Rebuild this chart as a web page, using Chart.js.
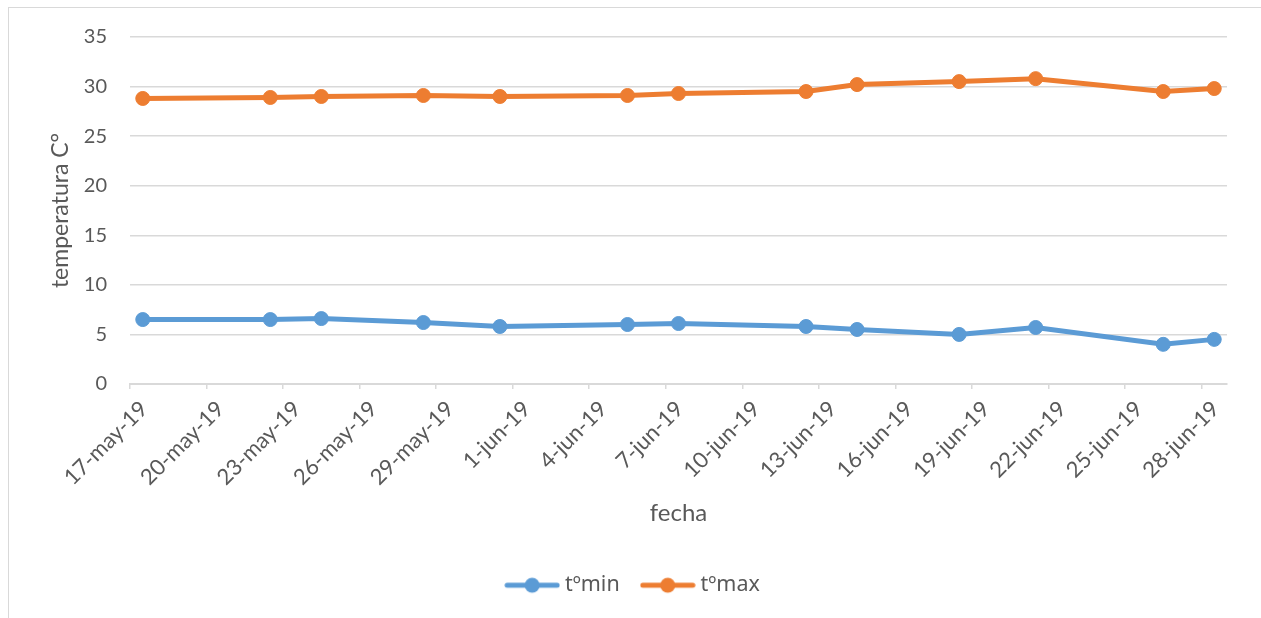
<!DOCTYPE html>
<html>
<head>
<meta charset="utf-8">
<script src="https://cdn.jsdelivr.net/npm/chart.js"></script>
<style>
  body { margin: 0; background: #fff; overflow: hidden; }
  #frame { position: absolute; left: 8px; top: 7px; width: 1300px; height: 700px;
           border-left: 1px solid #d9d9d9; border-top: 1px solid #d9d9d9; }
  #myChart { position: absolute; left: 0; top: 0; }
</style>
</head>
<body>
<div id="frame"></div>
<canvas id="myChart" width="1261" height="618"></canvas>
<script>
// measurement days and temperatures
var fechas = ['2019-05-17', '2019-05-22', '2019-05-24', '2019-05-28', '2019-05-31', '2019-06-05', '2019-06-07',
              '2019-06-12', '2019-06-14', '2019-06-18', '2019-06-21', '2019-06-26', '2019-06-28'];
var tMin = [6.5, 6.5, 6.6, 6.2, 5.8, 6.0, 6.1, 5.8, 5.5, 5.0, 5.7, 4.0, 4.5];
var tMax = [28.8, 28.9, 29.0, 29.1, 29.0, 29.1, 29.3, 29.5, 30.2, 30.5, 30.8, 29.5, 29.8];

// date axis
var ejeInicio = '2019-05-17';
var ejeFin = '2019-06-29';
var tickFechas = ['2019-05-17', '2019-05-20', '2019-05-23', '2019-05-26', '2019-05-29', '2019-06-01', '2019-06-04',
                  '2019-06-07', '2019-06-10', '2019-06-13', '2019-06-16', '2019-06-19', '2019-06-22', '2019-06-25', '2019-06-28'];
var meses = ['ene', 'feb', 'mar', 'abr', 'may', 'jun', 'jul', 'ago', 'sep', 'oct', 'nov', 'dic'];

var yTicks = [0, 5, 10, 15, 20, 25, 30, 35];

var textColor = '#595959';
var gridColor = '#d9d9d9';
var azul = '#5b9bd5';
var naranja = '#ed7d31';

function toUTC(s)
{
  var p = s.split('-');
  return Date.UTC(+p[0], +p[1] - 1, +p[2]);
}

// days since the start of the axis
function dia(s)
{
  return (toUTC(s) - toUTC(ejeInicio)) / 86400000;
}

function etiqueta(d)
{
  var f = new Date(toUTC(ejeInicio) + d * 86400000);
  return f.getUTCDate() + '-' + meses[f.getUTCMonth()] + '-' + String(f.getUTCFullYear()).slice(2);
}

// each point sits in the middle of its day
function serie(valores)
{
  var pts = [];
  for (var i = 0; i < fechas.length; i++) {
    pts.push({ x: dia(fechas[i]) + 0.5, y: valores[i] });
  }
  return pts;
}

// legend marker: short line with a dot in the middle
function marcador(color)
{
  var c = document.createElement('canvas');
  c.width = 56;
  c.height = 18;
  var g = c.getContext('2d');
  g.strokeStyle = color;
  g.lineWidth = 5;
  g.lineCap = 'round';
  g.beginPath();
  g.moveTo(3, 9);
  g.lineTo(53, 9);
  g.stroke();
  g.fillStyle = color;
  g.beginPath();
  g.arc(28, 9, 7.5, 0, Math.PI * 2);
  g.fill();
  return c;
}

function showGraph()
{
  var ctx = document.getElementById('myChart').getContext('2d');
  var marcas = [marcador(azul), marcador(naranja)];

  new Chart(ctx, {
    type: 'line',
    data: {
      datasets: [{
        label: 'tºmin',
        data: serie(tMin),
        borderColor: azul,
        backgroundColor: azul,
        borderWidth: 5,
        pointRadius: 7,
        pointBorderWidth: 1,
        fill: false
      }, {
        label: 'tºmax',
        data: serie(tMax),
        borderColor: naranja,
        backgroundColor: naranja,
        borderWidth: 5,
        pointRadius: 7,
        pointBorderWidth: 1,
        fill: false
      }]
    },
    options: {
      responsive: false,
      animation: false,
      layout: { padding: { left: 43, right: 34, top: 37, bottom: 12 } },
      plugins: {
        tooltip: { enabled: false },
        legend: {
          position: 'bottom',
          labels: {
            color: textColor,
            font: { family: 'Noto Sans', size: 21.5 },
            usePointStyle: true,
            pointStyleWidth: 44,
            padding: 26,
            generateLabels: function(chart) {
              return chart.data.datasets.map(function(ds, i) {
                return { text: ds.label, pointStyle: marcas[i], fillStyle: ds.borderColor,
                         strokeStyle: ds.borderColor, lineWidth: 0, fontColor: textColor, datasetIndex: i };
              });
            }
          }
        }
      },
      scales: {
        x: {
          type: 'linear',
          min: dia(ejeInicio),
          max: dia(ejeFin),
          afterBuildTicks: function(scale) {
            scale.ticks = tickFechas.map(function(f) { return { value: dia(f) }; });
          },
          afterFit: function(scale) { scale.height = 164.5; },
          ticks: {
            autoSkip: false,
            minRotation: 45,
            maxRotation: 45,
            padding: 7,
            labelOffset: 14,
            color: textColor,
            font: { family: 'Lato', size: 22 },
            callback: function(v) { return etiqueta(v); }
          },
          grid: { drawOnChartArea: false, color: gridColor, lineWidth: 1.5, tickLength: 5 },
          border: { color: gridColor, width: 2 },
          title: {
            display: true,
            text: 'fecha',
            color: textColor,
            font: { family: 'Lato', size: 24 },
            padding: { top: 4, bottom: 20.7 }
          }
        },
        y: {
          min: 0,
          max: 35,
          afterBuildTicks: function(scale) {
            scale.ticks = yTicks.map(function(v) { return { value: v }; });
          },
          afterFit: function(scale) { scale.width = 87; },
          ticks: {
            padding: 23,
            color: textColor,
            font: { family: 'Lato', size: 20 }
          },
          grid: { color: gridColor, lineWidth: 1.5, drawTicks: false },
          border: { display: false },
          title: {
            display: true,
            text: 'temperatura C°',
            color: textColor,
            font: { family: 'Lato', size: 23 },
            padding: { top: 4, bottom: 4 }
          }
        }
      }
    }
  });
}

showGraph();
</script>
</body>
</html>
